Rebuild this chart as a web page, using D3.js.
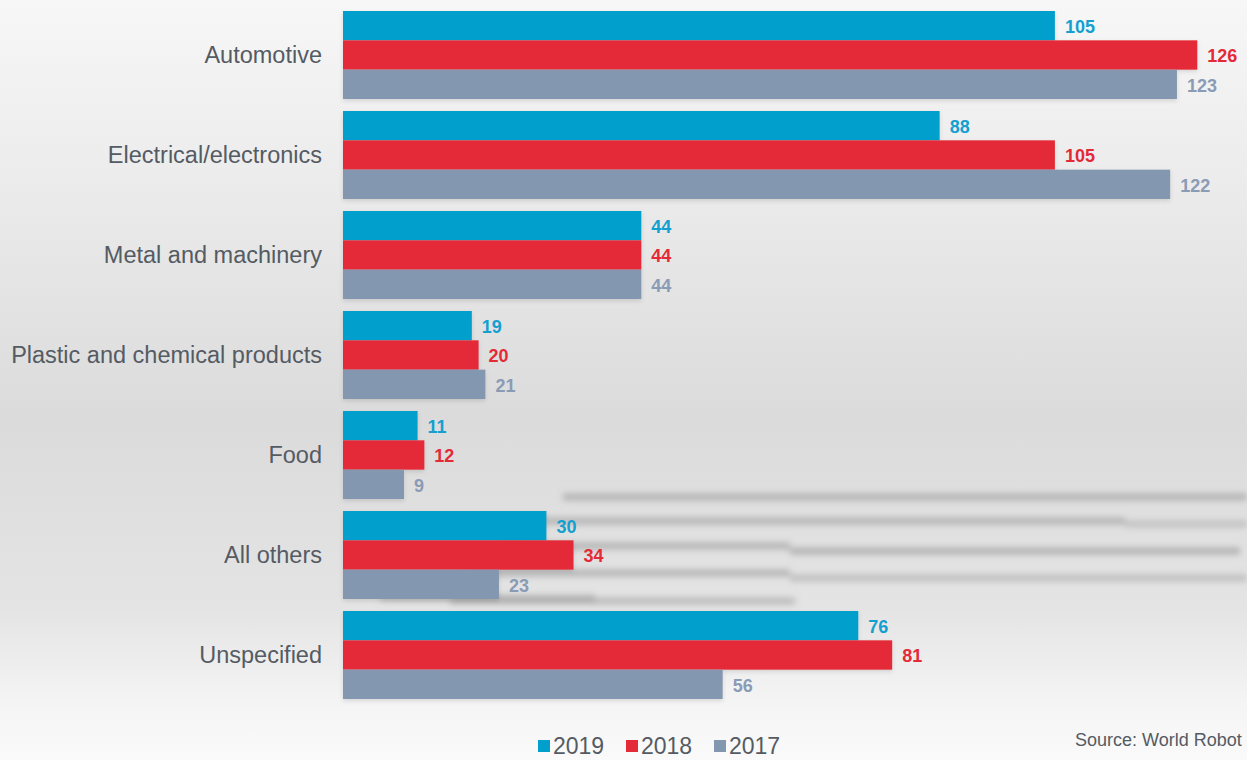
<!DOCTYPE html>
<html>
<head>
<meta charset="utf-8">
<script src="https://cdn.jsdelivr.net/npm/d3@7"></script>
<style>
  html, body { margin: 0; padding: 0; }
  body { width: 1247px; height: 760px; overflow: hidden; }
</style>
</head>
<body>
<div id="chart"></div>
<script>
// (DATA)
var categories = ["Automotive", "Electrical/electronics", "Metal and machinery",
    "Plastic and chemical products", "Food", "All others", "Unspecified"];
var seriesNames = ["2019", "2018", "2017"];
var values2019 = [105, 88, 44, 19, 11, 30, 76];
var values2018 = [126, 105, 44, 20, 12, 34, 81];
var values2017 = [123, 122, 44, 21, 9, 23, 56];
var seriesValues = [values2019, values2018, values2017];

var barColors = ["#009fcc", "#e42a37", "#8497b0"];
var labelColors = ["#13a0d0", "#e42a37", "#8a9bb6"];

var w = 1247, h = 760;

var svg = d3.select("#chart").append("svg")
    .attr("width", w)
    .attr("height", h);

var defs = svg.append("defs");

// background gradient
var bg = defs.append("linearGradient")
    .attr("id", "bg").attr("x1", 0).attr("y1", 0).attr("x2", 0).attr("y2", 1);
bg.append("stop").attr("offset", "0%").attr("stop-color", "#f7f7f7");
bg.append("stop").attr("offset", "25%").attr("stop-color", "#ebebeb");
bg.append("stop").attr("offset", "55%").attr("stop-color", "#dbdbdb");
bg.append("stop").attr("offset", "80%").attr("stop-color", "#e4e4e4");
bg.append("stop").attr("offset", "93%").attr("stop-color", "#f5f5f5");
bg.append("stop").attr("offset", "100%").attr("stop-color", "#fafafa");

svg.append("rect").attr("width", w).attr("height", h).attr("fill", "url(#bg)");

// blur filter for the faint streaks behind the lower bars
defs.append("filter").attr("id", "blur")
    .attr("filterUnits", "userSpaceOnUse")
    .attr("x", 300).attr("y", 470).attr("width", 960).attr("height", 160)
    .append("feGaussianBlur").attr("stdDeviation", 3);

var shadow = defs.append("filter").attr("id", "shadow")
    .attr("x", "-5%").attr("y", "-20%").attr("width", "110%").attr("height", "150%");
shadow.append("feDropShadow").attr("dx", 0).attr("dy", 2).attr("stdDeviation", 2)
    .attr("flood-color", "#000").attr("flood-opacity", 0.12);

// decorative streaks [x1, x2, y, opacity]
var streaks = [
    [563, 1247, 497, 0.5], [500, 1125, 521, 0.5], [1125, 1247, 524, 0.35],
    [500, 790, 546, 0.5], [790, 1240, 551, 0.55], [465, 790, 573, 0.5],
    [790, 1247, 578, 0.4], [380, 595, 598, 0.4], [450, 795, 601, 0.45]
];
svg.append("g").attr("filter", "url(#blur)")
    .selectAll("line").data(streaks).enter().append("line")
    .attr("x1", function(d) { return d[0]; })
    .attr("x2", function(d) { return d[1]; })
    .attr("y1", function(d) { return d[2]; })
    .attr("y2", function(d) { return d[2]; })
    .attr("stroke", "#8a8a8a")
    .attr("stroke-width", 7)
    .attr("stroke-opacity", function(d) { return d[3]; });

// (SCALES)
var xScale = d3.scaleLinear().domain([0, 126]).range([343, 343 + 126 * 6.78]);

var yGroup = d3.scaleBand()
    .domain(categories)
    .range([5, 705])
    .paddingInner(0.12)
    .paddingOuter(0.06);

var yBar = d3.scaleBand()
    .domain(d3.range(seriesNames.length))
    .range([0, yGroup.bandwidth()]);

// (CATEGORY LABELS)
svg.append("g").selectAll("text")
    .data(categories).enter().append("text")
    .attr("x", 322)
    .attr("y", function(d) { return yGroup(d) + yGroup.bandwidth() / 2; })
    .attr("dy", "0.35em")
    .attr("text-anchor", "end")
    .attr("font-family", "Liberation Sans, Arial, sans-serif")
    .attr("font-size", 23.5)
    .attr("fill", "#555b63")
    .text(function(d) { return d; });

// (BARS)
var groups = svg.append("g").selectAll("g")
    .data(categories).enter().append("g")
    .attr("transform", function(d) { return "translate(0," + yGroup(d) + ")"; });

groups.append("g").attr("filter", "url(#shadow)")
    .selectAll("rect")
    .data(function(d, i) {
        return seriesValues.map(function(s, k) { return { k: k, v: s[i] }; });
    })
    .enter().append("rect")
    .attr("x", xScale(0))
    .attr("y", function(d) { return yBar(d.k); })
    .attr("width", function(d) { return xScale(d.v) - xScale(0); })
    .attr("height", yBar.bandwidth())
    .attr("fill", function(d) { return barColors[d.k]; });

// (VALUE LABELS)
groups.selectAll("text")
    .data(function(d, i) {
        return seriesValues.map(function(s, k) { return { k: k, v: s[i] }; });
    })
    .enter().append("text")
    .attr("x", function(d) { return xScale(d.v) + 10; })
    .attr("y", function(d) { return yBar(d.k) + yBar.bandwidth() / 2 + 1; })
    .attr("dy", "0.35em")
    .attr("font-family", "Liberation Sans, Arial, sans-serif")
    .attr("font-weight", "bold")
    .attr("font-size", 18)
    .attr("fill", function(d) { return labelColors[d.k]; })
    .text(function(d) { return d.v; });

// (LEGEND)
var legendX = [538, 626, 714];
var legend = svg.append("g").selectAll("g")
    .data(seriesNames).enter().append("g")
    .attr("transform", function(d, i) { return "translate(" + legendX[i] + ",746)"; });

legend.append("rect")
    .attr("x", 0).attr("y", -6)
    .attr("width", 12).attr("height", 12)
    .attr("fill", function(d, i) { return barColors[i]; });

legend.append("text")
    .attr("x", 15)
    .attr("dy", "0.36em")
    .attr("font-family", "Liberation Sans Narrow, Arial Narrow, Liberation Sans, sans-serif")
    .attr("font-size", 23)
    .attr("fill", "#555b63")
    .text(function(d) { return d; });

// (SOURCE)
svg.append("text")
    .attr("x", 1075)
    .attr("y", 746)
    .attr("font-family", "Liberation Sans Narrow, Arial Narrow, Liberation Sans, sans-serif")
    .attr("font-size", 18)
    .attr("fill", "#555b63")
    .text("Source: World Robot");
</script>
</body>
</html>
